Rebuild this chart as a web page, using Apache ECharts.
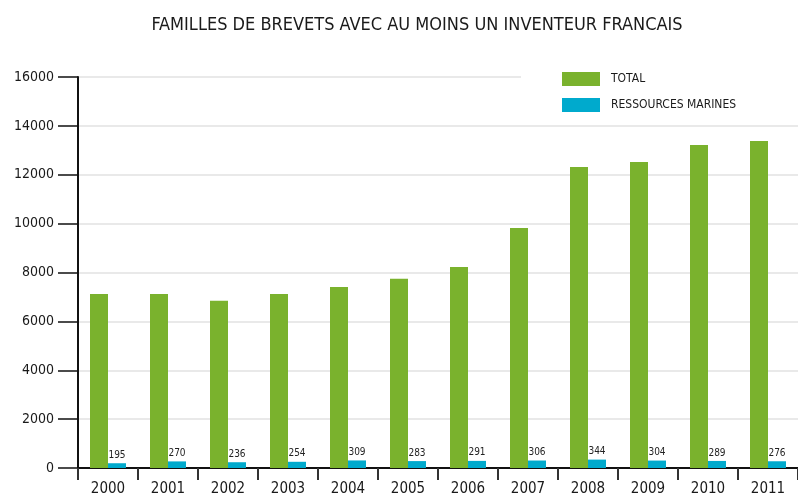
<!DOCTYPE html>
<html>
<head>
<meta charset="utf-8">
<script src="https://cdn.jsdelivr.net/npm/echarts@6/dist/echarts.min.js"></script>
<style>
  html, body { margin: 0; padding: 0; background: #fff; }
  #chart { width: 798px; height: 499px; }
</style>
</head>
<body>
<div id="chart"></div>
<script>
var years = ['2000', '2001', '2002', '2003', '2004', '2005', '2006', '2007', '2008', '2009', '2010', '2011'];
var totalVals = [7120, 7120, 6840, 7120, 7410, 7740, 8230, 9820, 12320, 12520, 13220, 13380];
var marinesVals = [195, 270, 236, 254, 309, 283, 291, 306, 344, 304, 289, 276];
var yTicks = [0, 2000, 4000, 6000, 8000, 10000, 12000, 14000, 16000];

var font = "'Liberation Sans Narrow', 'DejaVu Sans Condensed', sans-serif";
var chart = echarts.init(document.getElementById('chart'));

var option = {
  animation: false,
  title: {
    text: 'FAMILLES DE BREVETS AVEC AU MOINS UN INVENTEUR FRANCAIS',
    left: 412,
    textAlign: 'center',
    top: 11,
    textStyle: {
      fontFamily: font,
      fontSize: 18,
      fontWeight: 'normal',
      color: '#1a1a1a'
    }
  },
  // white box behind the legend hides the top grid line on the right
  legend: {
    orient: 'vertical',
    left: 521,
    top: 62,
    padding: [10, 80, 10, 41],
    backgroundColor: '#fff',
    icon: 'rect',
    itemWidth: 38,
    itemHeight: 14,
    itemGap: 12,
    itemStyle: { borderWidth: 0 },
    textStyle: {
      fontFamily: font,
      fontSize: 12,
      color: '#1a1a1a',
      padding: [0, 0, 0, 6]
    },
    data: ['TOTAL', 'RESSOURCES MARINES']
  },
  grid: {
    left: 78,
    right: 0,
    top: 77,
    bottom: 31
  },
  xAxis: {
    type: 'category',
    data: years,
    axisLine: { lineStyle: { color: '#111', width: 2 } },
    axisTick: { show: true, length: 12, lineStyle: { color: '#333', width: 2 } },
    axisLabel: {
      fontFamily: font,
      fontSize: 15,
      color: '#1a1a1a',
      margin: 14
    }
  },
  yAxis: {
    type: 'value',
    min: yTicks[0],
    max: yTicks[yTicks.length - 1],
    interval: yTicks[1] - yTicks[0],
    axisLine: { show: true, lineStyle: { color: '#111', width: 2 } },
    axisTick: { show: true, length: 20, lineStyle: { color: '#111', width: 1.5 } },
    axisLabel: {
      fontFamily: font,
      fontSize: 14,
      color: '#1a1a1a',
      margin: 24,
      formatter: function (v) { return String(v); }
    },
    splitLine: { lineStyle: { color: '#e2e2e2', width: 1.5 } }
  },
  series: [
    {
      name: 'TOTAL',
      type: 'bar',
      data: totalVals,
      barWidth: 18,
      barGap: '0%',
      itemStyle: { color: '#7ab22d' }
    },
    {
      name: 'RESSOURCES MARINES',
      type: 'bar',
      data: marinesVals,
      barWidth: 18,
      itemStyle: { color: '#00aacd' },
      label: {
        show: true,
        position: 'top',
        distance: 3,
        fontFamily: font,
        fontSize: 10,
        color: '#222'
      }
    }
  ]
};

chart.setOption(option);
</script>
</body>
</html>
